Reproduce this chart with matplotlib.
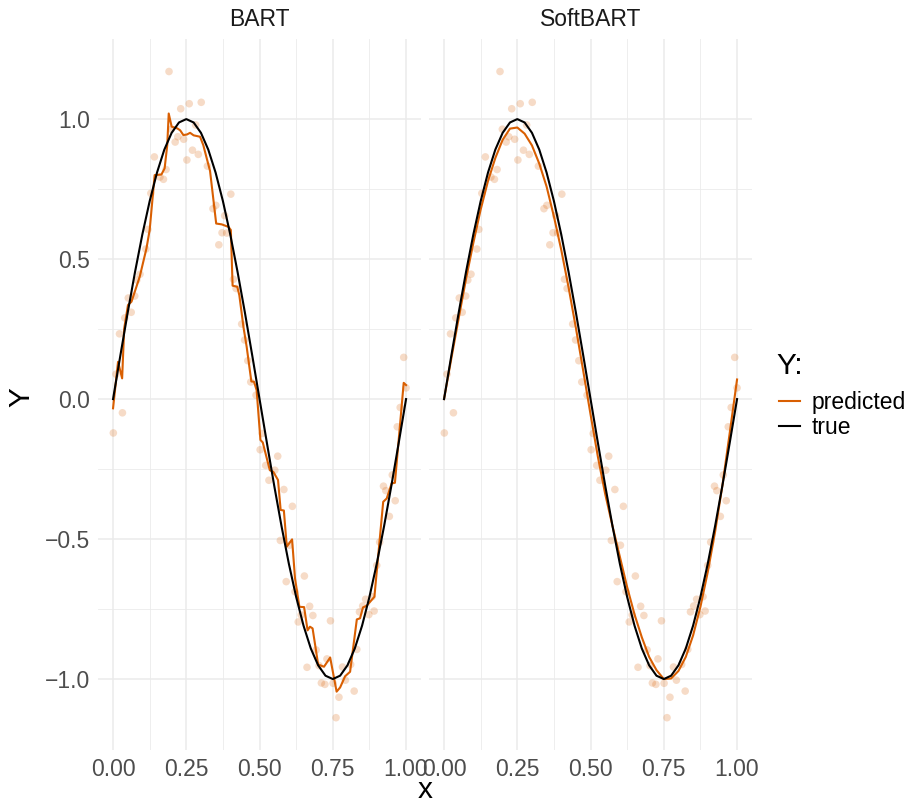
import numpy as np
import matplotlib
matplotlib.use("Agg")
import matplotlib.pyplot as plt
from matplotlib.lines import Line2D

# ---------------- data ----------------
panels = ["BART", "SoftBART"]

obs_x = [0.191,0.231,0.260,0.301,0.282,0.199,0.221,0.212,0.241,0.271,0.291,0.252,0.141,0.181,0.160,0.172,
         0.322,0.402,0.129,0.351,0.341,0.372,0.388,0.381,0.361,0.119,0.112,0.092,0.081,0.411,0.420,0.052,
         0.074,0.040,0.062,0.022,0.010,0.032,0.001,0.439,0.449,0.460,0.470,0.488,0.509,0.502,0.521,0.562,
         0.552,0.532,0.583,0.612,0.992,1.000,0.980,0.970,0.923,0.931,0.953,0.963,0.943,0.571,0.602,0.591,
         0.653,0.621,0.671,0.682,0.632,0.642,0.742,0.693,0.730,0.662,0.703,0.711,0.723,0.751,0.783,0.793,
         0.811,0.771,0.823,0.761,0.832,0.841,0.852,0.862,0.891,0.873,0.884,0.900,0.910]
obs_y = [1.170,1.037,1.055,1.060,0.979,0.964,0.937,0.918,0.928,0.889,0.874,0.854,0.865,0.820,0.793,0.785,
         0.832,0.732,0.735,0.692,0.680,0.594,0.593,0.655,0.551,0.606,0.536,0.446,0.425,0.428,0.395,0.361,
         0.368,0.290,0.310,0.233,0.089,-0.049,-0.121,0.268,0.211,0.137,0.061,0.014,-0.123,-0.181,-0.237,-0.204,
         -0.254,-0.290,-0.323,-0.383,0.149,0.040,-0.030,-0.099,-0.311,-0.327,-0.271,-0.363,-0.419,-0.505,-0.522,-0.652,
         -0.632,-0.688,-0.740,-0.773,-0.796,-0.771,-0.792,-0.896,-0.928,-0.958,-0.952,-1.014,-1.019,-1.015,-0.957,-1.004,
         -0.948,-1.065,-1.043,-1.138,-0.894,-0.760,-0.739,-0.715,-0.757,-0.770,-0.706,-0.594,-0.511]

# true function values on the grid x = 0, 0.025, ..., 1
grid_x = np.linspace(0, 1, 41)
true_y = [0.0, 0.156, 0.309, 0.454, 0.588, 0.707, 0.809, 0.891, 0.951, 0.988, 1.0,
          0.988, 0.951, 0.891, 0.809, 0.707, 0.588, 0.454, 0.309, 0.156, 0.0,
          -0.156, -0.309, -0.454, -0.588, -0.707, -0.809, -0.891, -0.951, -0.988, -1.0,
          -0.988, -0.951, -0.891, -0.809, -0.707, -0.588, -0.454, -0.309, -0.156, 0.0]

# SoftBART prediction on the same grid
soft_y = [0.0, 0.146, 0.289, 0.429, 0.558, 0.677, 0.779, 0.861, 0.926, 0.966, 0.970,
          0.948, 0.906, 0.841, 0.759, 0.652, 0.533, 0.399, 0.254, 0.101, -0.055,
          -0.206, -0.339, -0.454, -0.563, -0.672, -0.769, -0.851, -0.921, -0.968, -1.0,
          -0.998, -0.971, -0.921, -0.844, -0.742, -0.618, -0.474, -0.309, -0.121, 0.070]

# BART prediction (step-like)
bart_x = [0.0, 0.017, 0.031, 0.038, 0.051, 0.063, 0.091, 0.114, 0.125, 0.142, 0.165, 0.176, 0.185, 0.190,
          0.200, 0.219, 0.229, 0.240, 0.252, 0.263, 0.275, 0.297, 0.308, 0.331, 0.352, 0.371, 0.394, 0.402,
          0.408, 0.424, 0.431, 0.445, 0.456, 0.472, 0.481, 0.490, 0.503, 0.511, 0.535, 0.547, 0.563, 0.572,
          0.583, 0.593, 0.611, 0.621, 0.636, 0.652, 0.664, 0.672, 0.681, 0.700, 0.720, 0.741, 0.763, 0.775,
          0.792, 0.809, 0.832, 0.843, 0.853, 0.866, 0.892, 0.922, 0.934, 0.951, 0.962, 0.992, 1.0]
bart_y = [-0.033, 0.133, 0.074, 0.252, 0.336, 0.348, 0.437, 0.538, 0.604, 0.800, 0.802, 0.824, 0.907, 1.020,
          0.973, 0.967, 0.960, 0.943, 0.945, 0.951, 0.942, 0.937, 0.907, 0.815, 0.627, 0.624, 0.615, 0.604,
          0.405, 0.401, 0.371, 0.258, 0.187, 0.063, 0.062, 0.032, -0.146, -0.155, -0.254, -0.260, -0.289, -0.396,
          -0.398, -0.527, -0.501, -0.640, -0.742, -0.743, -0.826, -0.813, -0.819, -0.948, -0.956, -0.923, -1.045, -1.030,
          -0.990, -0.974, -0.787, -0.783, -0.744, -0.738, -0.706, -0.367, -0.355, -0.301, -0.299, 0.058, 0.050]

x_ticks = [0.0, 0.25, 0.5, 0.75, 1.0]
x_ticklabels = ["0.00", "0.25", "0.50", "0.75", "1.00"]
y_ticks = [-1.0, -0.5, 0.0, 0.5, 1.0]
y_ticklabels = ["\u22121.0", "\u22120.5", "0.0", "0.5", "1.0"]
legend_title = "Y:"
legend_labels = ["predicted", "true"]

# ---------------- style ----------------
plt.rcParams["font.family"] = ["Liberation Sans", "DejaVu Sans"]

ORANGE = "#D95F02"
GRID = "#EBEBEB"
SMALL = 16.5
BIG = 21.5

W, H = 914, 805
fig = plt.figure(figsize=(W / 100, H / 100), dpi=100)

def fx(px):
    return px / W

def fy(py):
    return 1 - py / H

left_px = [98.4, 429.4]
panel_w = 322.3
top_px, bot_px = 39.2, 750.0

all_y = list(obs_y) + list(bart_y) + list(soft_y) + list(true_y)
ymin, ymax = min(all_y), max(all_y)
pad = 0.05 * (ymax - ymin)

preds = {"BART": (bart_x, bart_y), "SoftBART": (grid_x, soft_y)}

for i, name in enumerate(panels):
    ax = fig.add_axes([fx(left_px[i]), fy(bot_px), panel_w / W, (bot_px - top_px) / H])
    ax.set_xlim(-0.05, 1.05)
    ax.set_ylim(ymin - pad, ymax + pad)
    for s in ax.spines.values():
        s.set_visible(False)
    ax.set_xticks(x_ticks)
    ax.set_yticks(y_ticks)
    ax.set_xticks([0.125, 0.375, 0.625, 0.875], minor=True)
    ax.set_yticks([-0.75, -0.25, 0.25, 0.75], minor=True)
    ax.grid(True, which="major", color=GRID, linewidth=1.1)
    ax.grid(True, which="minor", color=GRID, linewidth=0.6)
    ax.set_axisbelow(True)
    ax.tick_params(which="both", length=0)
    ax.set_xticklabels(x_ticklabels, fontsize=SMALL, color="#4D4D4D")
    ax.tick_params(axis="x", pad=6)
    if i == 0:
        ax.set_yticklabels(y_ticklabels, fontsize=SMALL, color="#4D4D4D")
        ax.tick_params(axis="y", pad=6)
    else:
        ax.set_yticklabels([])

    ax.scatter(obs_x, obs_y, s=30, color=ORANGE, alpha=0.22, edgecolors="none", zorder=2)
    px_, py_ = preds[name]
    ax.plot(px_, py_, color=ORANGE, lw=1.5, zorder=3)
    ax.plot(grid_x, true_y, color="black", lw=1.5, zorder=4)

    fig.text(fx(left_px[i] + panel_w / 2), fy(20), name, ha="center", va="center",
             fontsize=SMALL, color="#1A1A1A")

fig.text(fx(425), fy(804), "x", ha="center", va="bottom", fontsize=BIG)
fig.text(fx(21), fy(397), "Y", ha="center", va="center", fontsize=BIG, rotation=90)

fig.text(fx(776), fy(366), legend_title, ha="left", va="center", fontsize=BIG)
handles = [Line2D([], [], color=ORANGE, lw=1.5), Line2D([], [], color="black", lw=1.5)]
leg = fig.legend(handles, legend_labels, loc="upper left",
                 bbox_to_anchor=(fx(779), fy(391)), frameon=False, fontsize=SMALL,
                 handlelength=0.92, handletextpad=0.5,
                 labelspacing=0.1, borderaxespad=0, borderpad=0)

fig.savefig("out.png", dpi=100)
